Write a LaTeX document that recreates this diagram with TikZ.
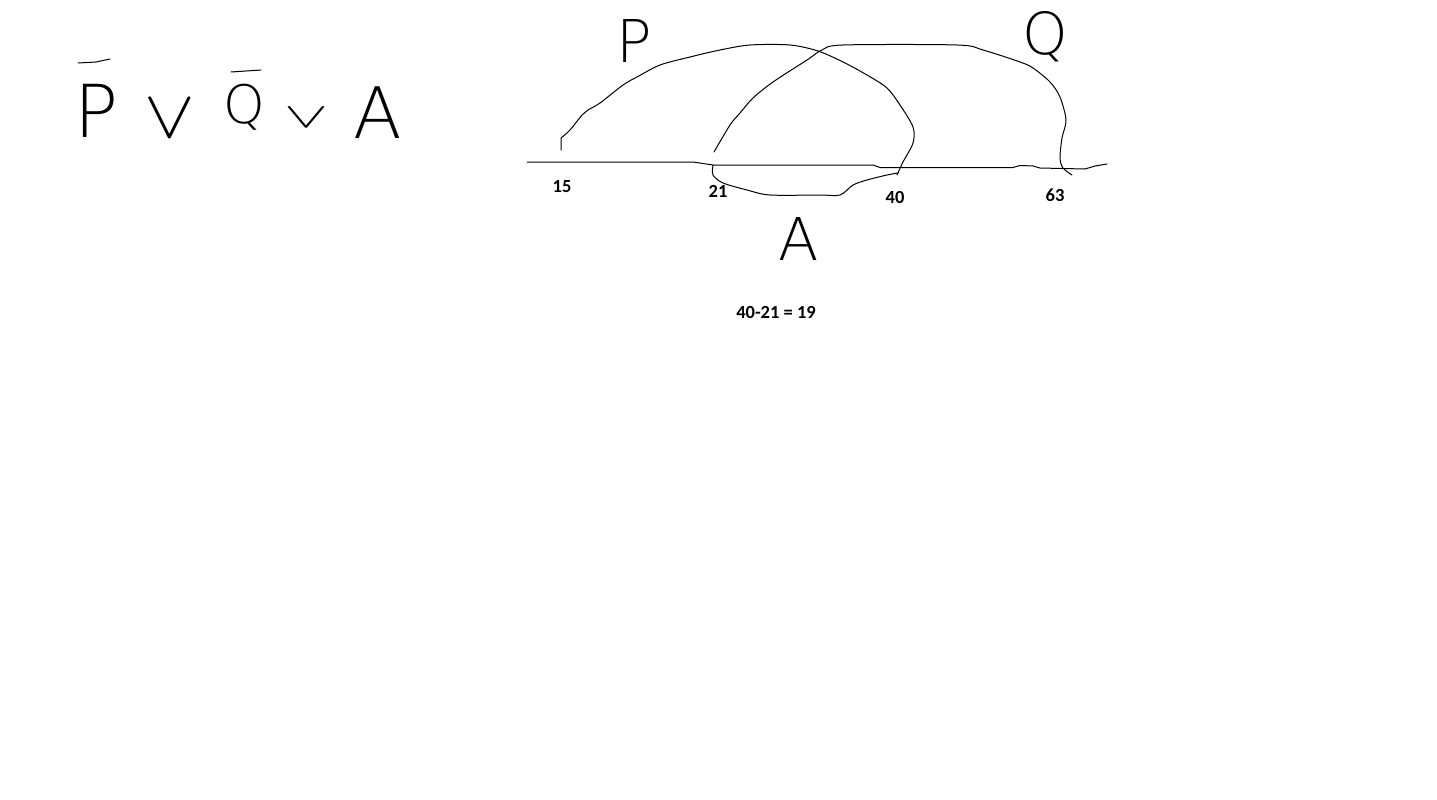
\documentclass[tikz,border=0pt]{standalone}
\usepackage{fontspec}
\usepackage{graphicx}
\newfontfamily\handfont{DejaVuSans-ExtraLight.ttf}
\newfontfamily\labfont{Carlito}
\begin{document}
\begin{tikzpicture}[x=1pt,y=-1pt,
  stroke/.style={line width=1pt, line join=round, line cap=round},
  hand/.style={inner sep=0pt, anchor=base},
  num/.style={inner sep=0pt, font=\labfont\bfseries\fontsize{18.5}{20}\selectfont}]
\useasboundingbox[fill=white] (0,0) rectangle (1437,800);

% formula
\node[hand, font=\handfont\fontsize{73}{73}\selectfont] (fp) at (97,137) {P};
\node[hand] (fv1) at (170,137) {\scalebox{7.6}[6.8]{$\vee$}};
\node[hand, font=\handfont\fontsize{53}{53}\selectfont] (fq) at (244,123) {Q};
\node[hand] (fv2) at (306,127) {\scalebox{6.6}[3.5]{$\vee$}};
\node[hand, font=\handfont\fontsize{71}{71}\selectfont] (fa) at (378,138) {A};
\draw[stroke] (78,63) -- (96,62) -- (110,59);
\draw[stroke] (231,72) -- (261,70);

% number line
\draw[stroke] (527,162) -- (693,162) -- (713,165) -- (873,165) -- (880,167.5) -- (1013,167.5)
  -- (1020,165.5) -- (1033,166) -- (1040,168) -- (1085,169) -- (1095,166) -- (1107,164);

% P arc
\draw[stroke] (561,150) -- (561,138) plot[smooth, tension=0.5] coordinates {(561,138) (570,130) (582,115) (588,110) (600,103) (623,85) (637,77) (660,65) (690,57) (720,50) (750,45) (790,45) (818,51) (843,62) (867,75) (887,88) (900,105) (913,127) (913,143) (903,162) (897,175)};

% A arc (below the line)
\draw[stroke] plot[smooth, tension=0.5] coordinates {(713,165) (713,175) (723,183) (747,190) (770,195) (820,195) (840,195) (853,185) (867,180) (887,175) (898,173)};

% Q arc
\draw[stroke] plot[smooth, tension=0.5] coordinates {(714,152) (730,125) (740,113) (753,98) (773,82) (807,60) (822,50) (843,45) (957,45) (983,50) (1020,62) (1033,68) (1050,82) (1060,97) (1066,120) (1062,138) (1060,158) (1063,168) (1072,175)};

% set letters
\node[hand, font=\handfont\fontsize{59}{59}\selectfont] (lp) at (634,63) {P};
\node[hand, font=\handfont\fontsize{58}{58}\selectfont] (lq) at (1045,55) {Q};
\node[hand, font=\handfont\fontsize{59}{59}\selectfont] (la) at (799,260) {A};

% numbers
\node[num] (n15) at (562,187) {15};
\node[num] (n21) at (718,191) {21};
\node[num] (n40) at (895,197) {40};
\node[num] (n63) at (1055,195) {63};
\node[num] (res) at (776,312) {40-21 = 19};
\end{tikzpicture}
\end{document}
